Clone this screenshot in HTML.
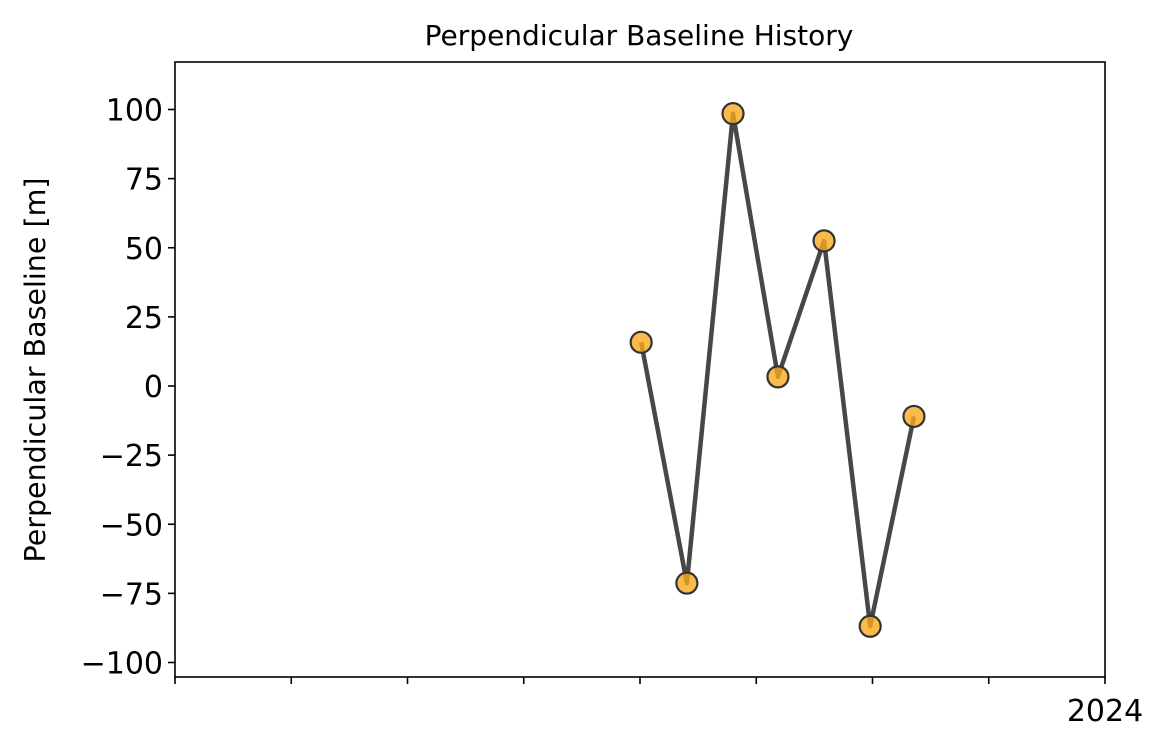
<!DOCTYPE html>
<html><head><meta charset="utf-8"><style>
body{margin:0;background:#fff;}
svg{display:block;font-family:"DejaVu Sans","Liberation Sans",sans-serif;}
</style></head><body>
<svg id="chart" width="1167" height="750">
<rect width="1167" height="750" fill="#fff"/>
<text x="639" y="45" font-size="28" text-anchor="middle">Perpendicular Baseline History</text>
<text transform="translate(45,370) rotate(-90)" font-size="28.5" text-anchor="middle">Perpendicular Baseline [m]</text>
<g id="axes"></g>
<g id="series"></g>
<rect x="175" y="62" width="930" height="615" fill="none" stroke="#000" stroke-width="1.6"/>
</svg>
<script>
const days = [120.3, 132.1, 144, 155.6, 167.5, 179.4, 190.7];
const baseline = [15.8, -71.3, 98.5, 3.3, 52.5, -86.9, -11.0];
const yTicks = [100, 75, 50, 25, 0, -25, -50, -75, -100];
const yTickLabels = ["100", "75", "50", "25", "0", "\u221225", "\u221250", "\u221275", "\u2212100"];
const xTicks = [0, 30, 60, 90, 120, 150, 180, 210, 240];
const xTickLabels = ["", "", "", "", "", "", "", "", "2024"];

const NS = "http://www.w3.org/2000/svg";
const X0 = 175, X1 = 1105, Y0 = 62, Y1 = 677;
const xScale = d => X0 + (d - 0) / 240 * (X1 - X0);
const yScale = v => 386 - v * 2.765;
function mk(tag, attrs, parent) {
  const e = document.createElementNS(NS, tag);
  for (const k in attrs) e.setAttribute(k, attrs[k]);
  parent.appendChild(e);
  return e;
}
const axes = document.getElementById("axes");
yTicks.forEach((t, i) => {
  const y = yScale(t);
  const ln = mk("line", {x1: X0 - 7, x2: X0, y1: y, y2: y, stroke: "#000", "stroke-width": 1.6}, axes);
  
  
  const tx = mk("text", {x: X0 - 12, y: y + 11, "font-size": 30, "text-anchor": "end"}, axes);
  tx.textContent = yTickLabels[i];
  
  
});
xTicks.forEach((t, i) => {
  const x = xScale(t);
  const ln = mk("line", {x1: x, x2: x, y1: Y1, y2: Y1 + 7, stroke: "#000", "stroke-width": 1.6}, axes);
  
  
  if (xTickLabels[i]) {
    const tx = mk("text", {x: x, y: Y1 + 44, "font-size": 30, "text-anchor": "middle"}, axes);
    tx.textContent = xTickLabels[i];
    
    
  }
});
const g = document.getElementById("series");
const pts = days.map((d, i) => xScale(d) + "," + yScale(baseline[i])).join(" ");
const line = mk("polyline", {points: pts, fill: "none", stroke: "#474747", "stroke-width": 4.5, "stroke-linejoin": "round"}, g);


days.forEach((d, i) => {
  const c = mk("circle", {cx: xScale(d), cy: yScale(baseline[i]), r: 10.5, fill: "rgba(250,170,30,0.8)", stroke: "#333", "stroke-width": 2.2}, g);
  
  
});
</script>
</body></html>
